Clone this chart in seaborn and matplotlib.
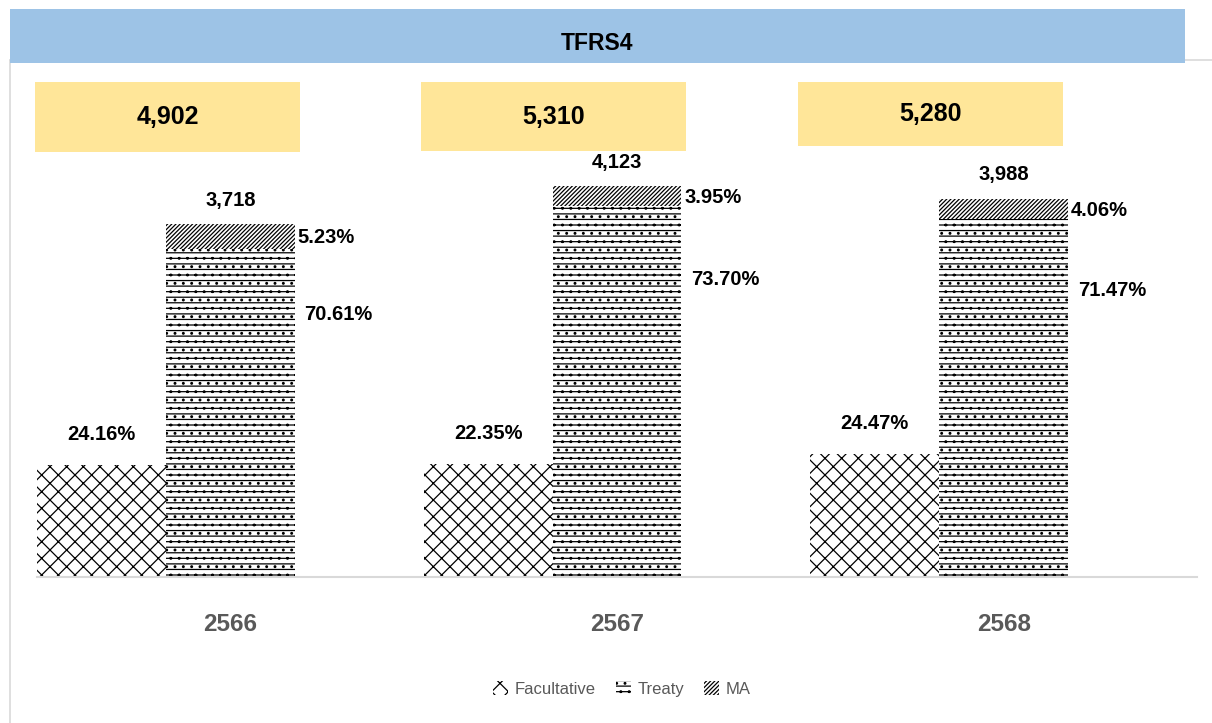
import numpy as np
import pandas as pd
import matplotlib
matplotlib.use('Agg')
from matplotlib import pyplot as plt
from matplotlib.patches import Rectangle, Patch
from matplotlib.lines import Line2D
import seaborn as sns

# data
years = ['2566', '2567', '2568']
totals = ['4,902', '5,310', '5,280']
stack_totals = ['3,718', '4,123', '3,988']
facultative = [1184, 1187, 1292]
treaty = [3461, 3913, 3774]
ma = [256, 210, 214]
fac_pct = ['24.16%', '22.35%', '24.47%']
treaty_pct = ['70.61%', '73.70%', '71.47%']
ma_pct = ['5.23%', '3.95%', '4.06%']

sns.set_theme(style='white')
plt.rcParams['font.family'] = ['Liberation Sans', 'DejaVu Sans']
plt.rcParams['hatch.linewidth'] = 0.9

W, H = 1212, 723
fig = plt.figure(figsize=(W / 100, H / 100), dpi=100)

def fx(px):
    return px / W

def fy(py):
    return 1 - py / H

# long table for seaborn, with an empty third slot per year
df = pd.DataFrame({
    'year': years * 3,
    'series': ['Facultative'] * 3 + ['Treaty'] * 3 + ['_pad'] * 3,
    'value': facultative + treaty + [0, 0, 0],
})

HATCH_FAC = 'xx'
HATCH_TREATY = '---..'
HATCH_MA = '////////'

ax = fig.add_axes([fx(37), fy(577), fx(1160), (577 - 150) / H])
sns.barplot(data=df, x='year', y='value', hue='series', order=years,
            hue_order=['Facultative', 'Treaty', '_pad'], width=1.0,
            dodge=True, legend=False, errorbar=None, ax=ax)

hatches = {0: HATCH_FAC, 1: HATCH_TREATY}
for k, cont in enumerate(ax.containers[:2]):
    for p in cont:
        p.set_facecolor('white')
        p.set_edgecolor('black')
        p.set_linewidth(0)
        p.set_hatch(hatches[k])

xs = np.arange(len(years))
ma_bars = ax.bar(xs, ma, bottom=treaty, width=1 / 3, color='white',
                 edgecolor='black', linewidth=0, hatch=HATCH_MA)

ax.set_xlim(-0.5, 2.5)
ax.set_ylim(0, 4500)
ax.set_xlabel('')
ax.set_ylabel('')
ax.set_yticks([])
for s in ['top', 'left', 'right']:
    ax.spines[s].set_visible(False)
ax.spines['bottom'].set_color('#D9D9D9')
ax.spines['bottom'].set_linewidth(1.5)
ax.tick_params(axis='x', length=0, pad=26)
for t in ax.get_xticklabels():
    t.set_fontsize(17.5)
    t.set_fontweight('bold')
    t.set_color('#595959')

lab = dict(fontsize=14.5, fontweight='bold', color='black')
for i in range(len(years)):
    ax.annotate(fac_pct[i], (i - 1 / 3, facultative[i]), xytext=(0, 22),
                textcoords='offset points', ha='center', va='center', **lab)
    top = treaty[i] + ma[i]
    ax.annotate(stack_totals[i], (i, top), xytext=(0, 17),
                textcoords='offset points', ha='center', va='center', **lab)
    ax.annotate(ma_pct[i], (i + 1 / 6, treaty[i] + ma[i] / 2), xytext=(2, -1),
                textcoords='offset points', ha='left', va='center', **lab)
    ax.annotate(treaty_pct[i], (i + 1 / 6, treaty[i] * 0.8), xytext=(7, 0),
                textcoords='offset points', ha='left', va='center', **lab)

# chart border
fig.add_artist(Line2D([fx(10), fx(10)], [fy(60), 0], color='#D9D9D9', lw=1.2, zorder=1))
fig.add_artist(Line2D([fx(10), 1], [fy(60), fy(60)], color='#D9D9D9', lw=1.2, zorder=1))

# title banner
fig.add_artist(Rectangle((fx(10), fy(63)), fx(1175), 54 / H, transform=fig.transFigure,
                         facecolor='#9DC3E6', edgecolor='none', zorder=3))
fig.text(fx(597), fy(44), 'TFRS4', ha='center', va='center', fontsize=16.5,
         fontweight='bold', color='black', zorder=4)

# yellow total boxes
boxes = [(35, 82, 265, 70), (421, 82, 265, 69), (798, 82, 265, 64)]
for (bx, by, bw, bh), txt in zip(boxes, totals):
    fig.add_artist(Rectangle((fx(bx), fy(by + bh)), fx(bw), bh / H,
                             transform=fig.transFigure, facecolor='#FFE699',
                             edgecolor='none', zorder=3))
    fig.text(fx(bx + bw / 2), fy(by + bh / 2), txt, ha='center', va='center',
             fontsize=18, fontweight='bold', color='black', zorder=4)

handles = [Patch(facecolor='white', edgecolor='black', linewidth=0, hatch=HATCH_FAC),
           Patch(facecolor='white', edgecolor='black', linewidth=0, hatch=HATCH_TREATY),
           Patch(facecolor='white', edgecolor='black', linewidth=0, hatch=HATCH_MA)]
fig.legend(handles, ['Facultative', 'Treaty', 'MA'], loc='center',
           bbox_to_anchor=(fx(622), fy(689)), ncol=3, frameon=False,
           fontsize=12, labelcolor='#595959', handlelength=0.9, handleheight=0.9,
           handletextpad=0.4, columnspacing=1.2)

fig.savefig('out.png', dpi=100)
